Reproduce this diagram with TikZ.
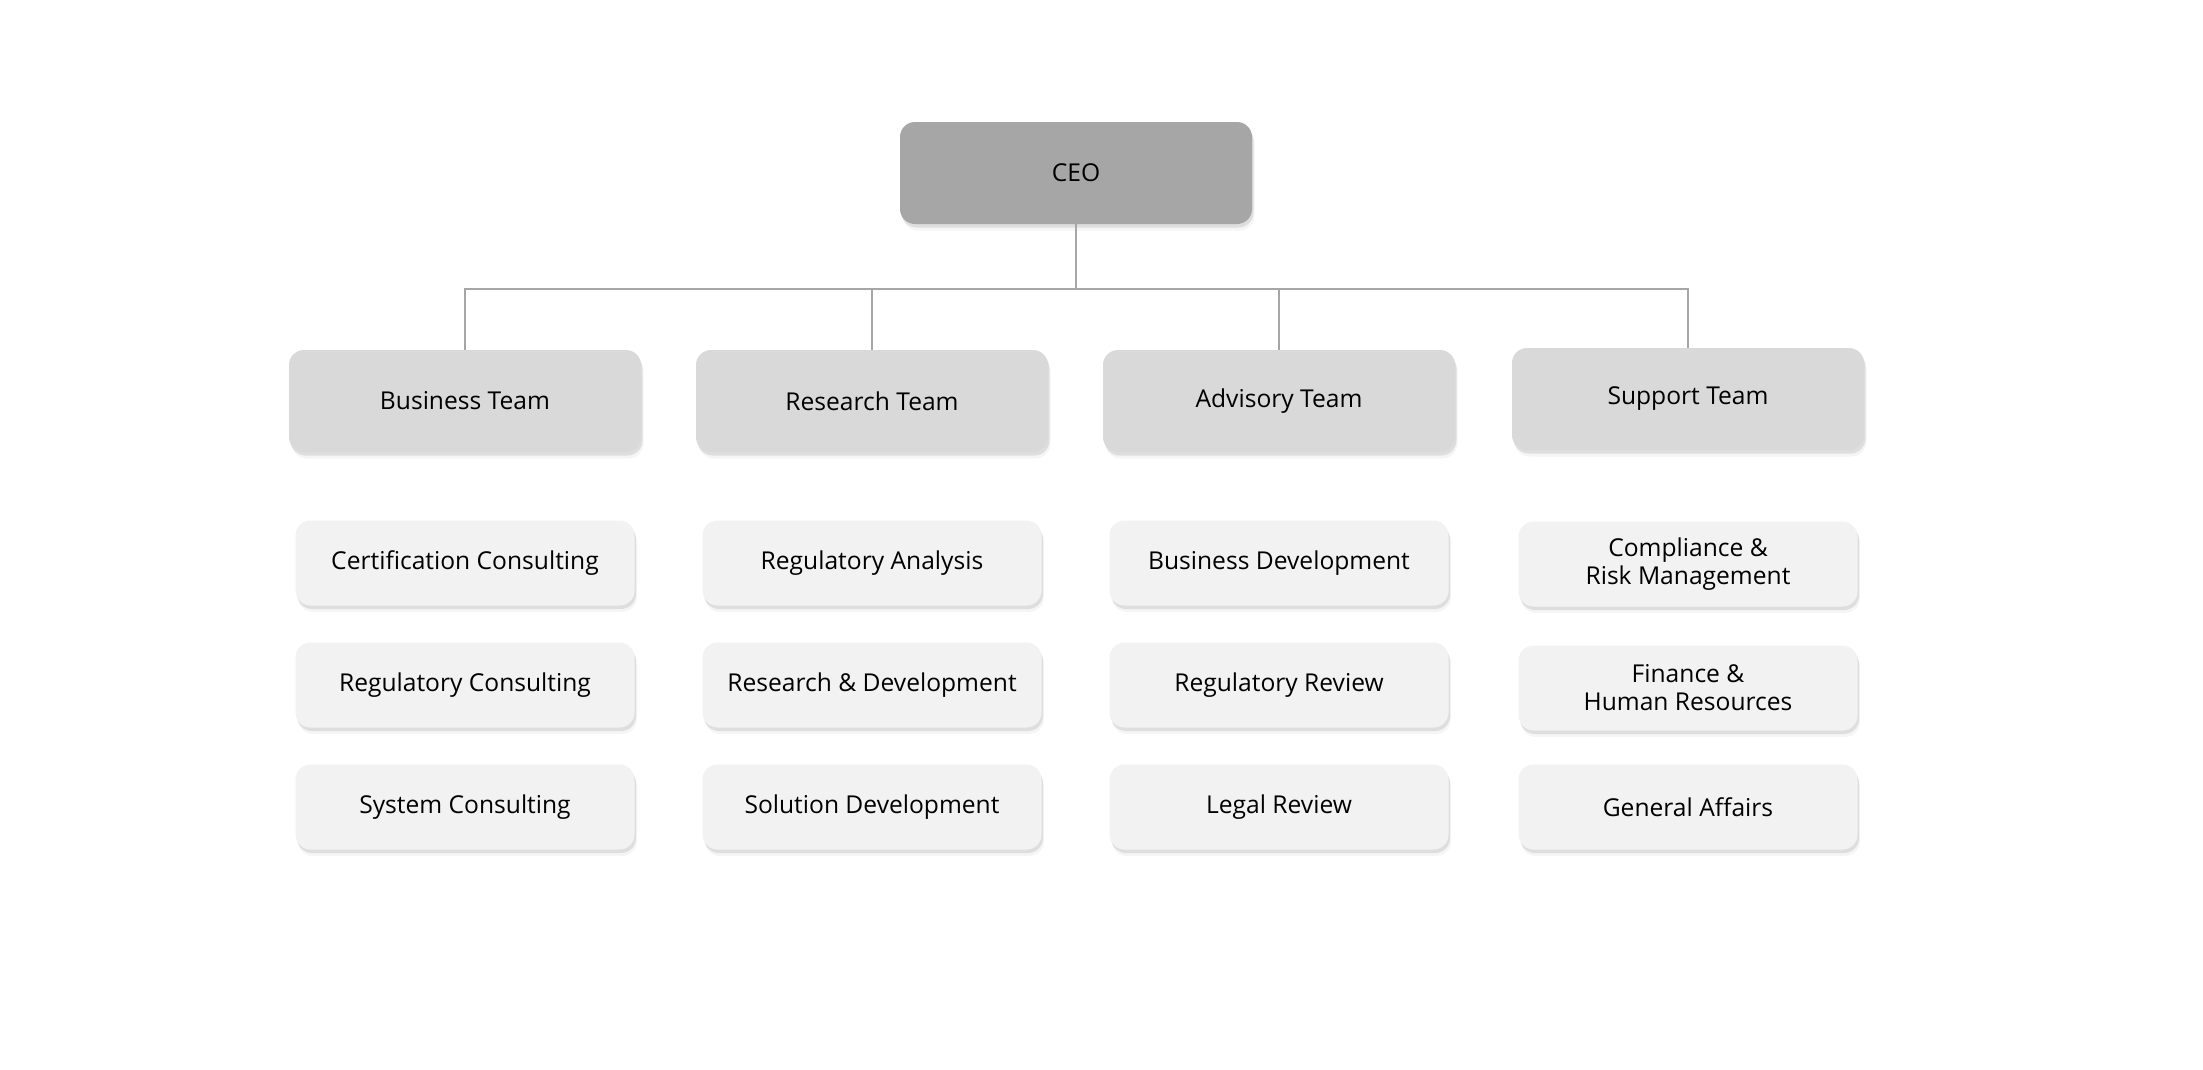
\documentclass[tikz,border=0pt]{standalone}
\usepackage{fontspec}
\setmainfont{Open Sans}
\usetikzlibrary{shadows}

\definecolor{ceogray}{HTML}{A6A6A6}
\definecolor{teamgray}{HTML}{D9D9D9}
\definecolor{unitgray}{HTML}{F2F2F2}

\begin{document}
\begin{tikzpicture}[x=0.2mm, y=-0.2mm,
    box/.style={rounded corners=3mm, inner sep=0pt, align=center,
      font=\fontsize{14}{16}\selectfont,
      drop shadow={shadow xshift=0.5mm, shadow yshift=-1.3mm, opacity=0.08},
      drop shadow={shadow xshift=0.3mm, shadow yshift=-0.7mm, opacity=0.2}},
    ceobox/.style={box, fill=ceogray, minimum width=70.4mm, minimum height=20.4mm},
    teambox/.style={box, fill=teamgray, minimum width=70.4mm, minimum height=20.4mm},
    unitbox/.style={box, fill=unitgray, minimum width=67.8mm, minimum height=17mm},
    link/.style={draw=ceogray, line width=0.55mm}]
      \useasboundingbox (0,0) rectangle (2203,1069);

      \node[ceobox] (ceo) at (1076,173) {CEO};

      \node[teambox] (bt) at (465,401) {Business Team};
      \node[teambox] (rt) at (872,401) {Research Team};
      \node[teambox] (at) at (1279,401) {Advisory Team};
      \node[teambox] (st) at (1688,399) {Support Team};

      \coordinate (bar) at (0,289);
      \draw[link] (ceo.south) -- (ceo.south |- bar);
      \draw[link] (bt.north) |- (st.north |- bar) -- (st.north);
      \draw[link] (rt.north) -- (rt.north |- bar);
      \draw[link] (at.north) -- (at.north |- bar);

      \node[unitbox] (bt1) at (465,563) {Certification Consulting};
      \node[unitbox] (bt2) at (465,685) {Regulatory Consulting};
      \node[unitbox] (bt3) at (465,807) {System Consulting};

      \node[unitbox] (rt1) at (872,563) {Regulatory Analysis};
      \node[unitbox] (rt2) at (872,685) {Research \& Development};
      \node[unitbox] (rt3) at (872,807) {Solution Development};

      \node[unitbox] (at1) at (1279,563) {Business Development};
      \node[unitbox] (at2) at (1279,685) {Regulatory Review};
      \node[unitbox] (at3) at (1279,807) {Legal Review};

      \node[unitbox] (st1) at (1688,564) {Compliance \&\\Risk Management};
      \node[unitbox] (st2) at (1688,688) {Finance \&\\Human Resources};
      \node[unitbox] (st3) at (1688,807) {General Affairs};
    \end{tikzpicture}
\end{document}
